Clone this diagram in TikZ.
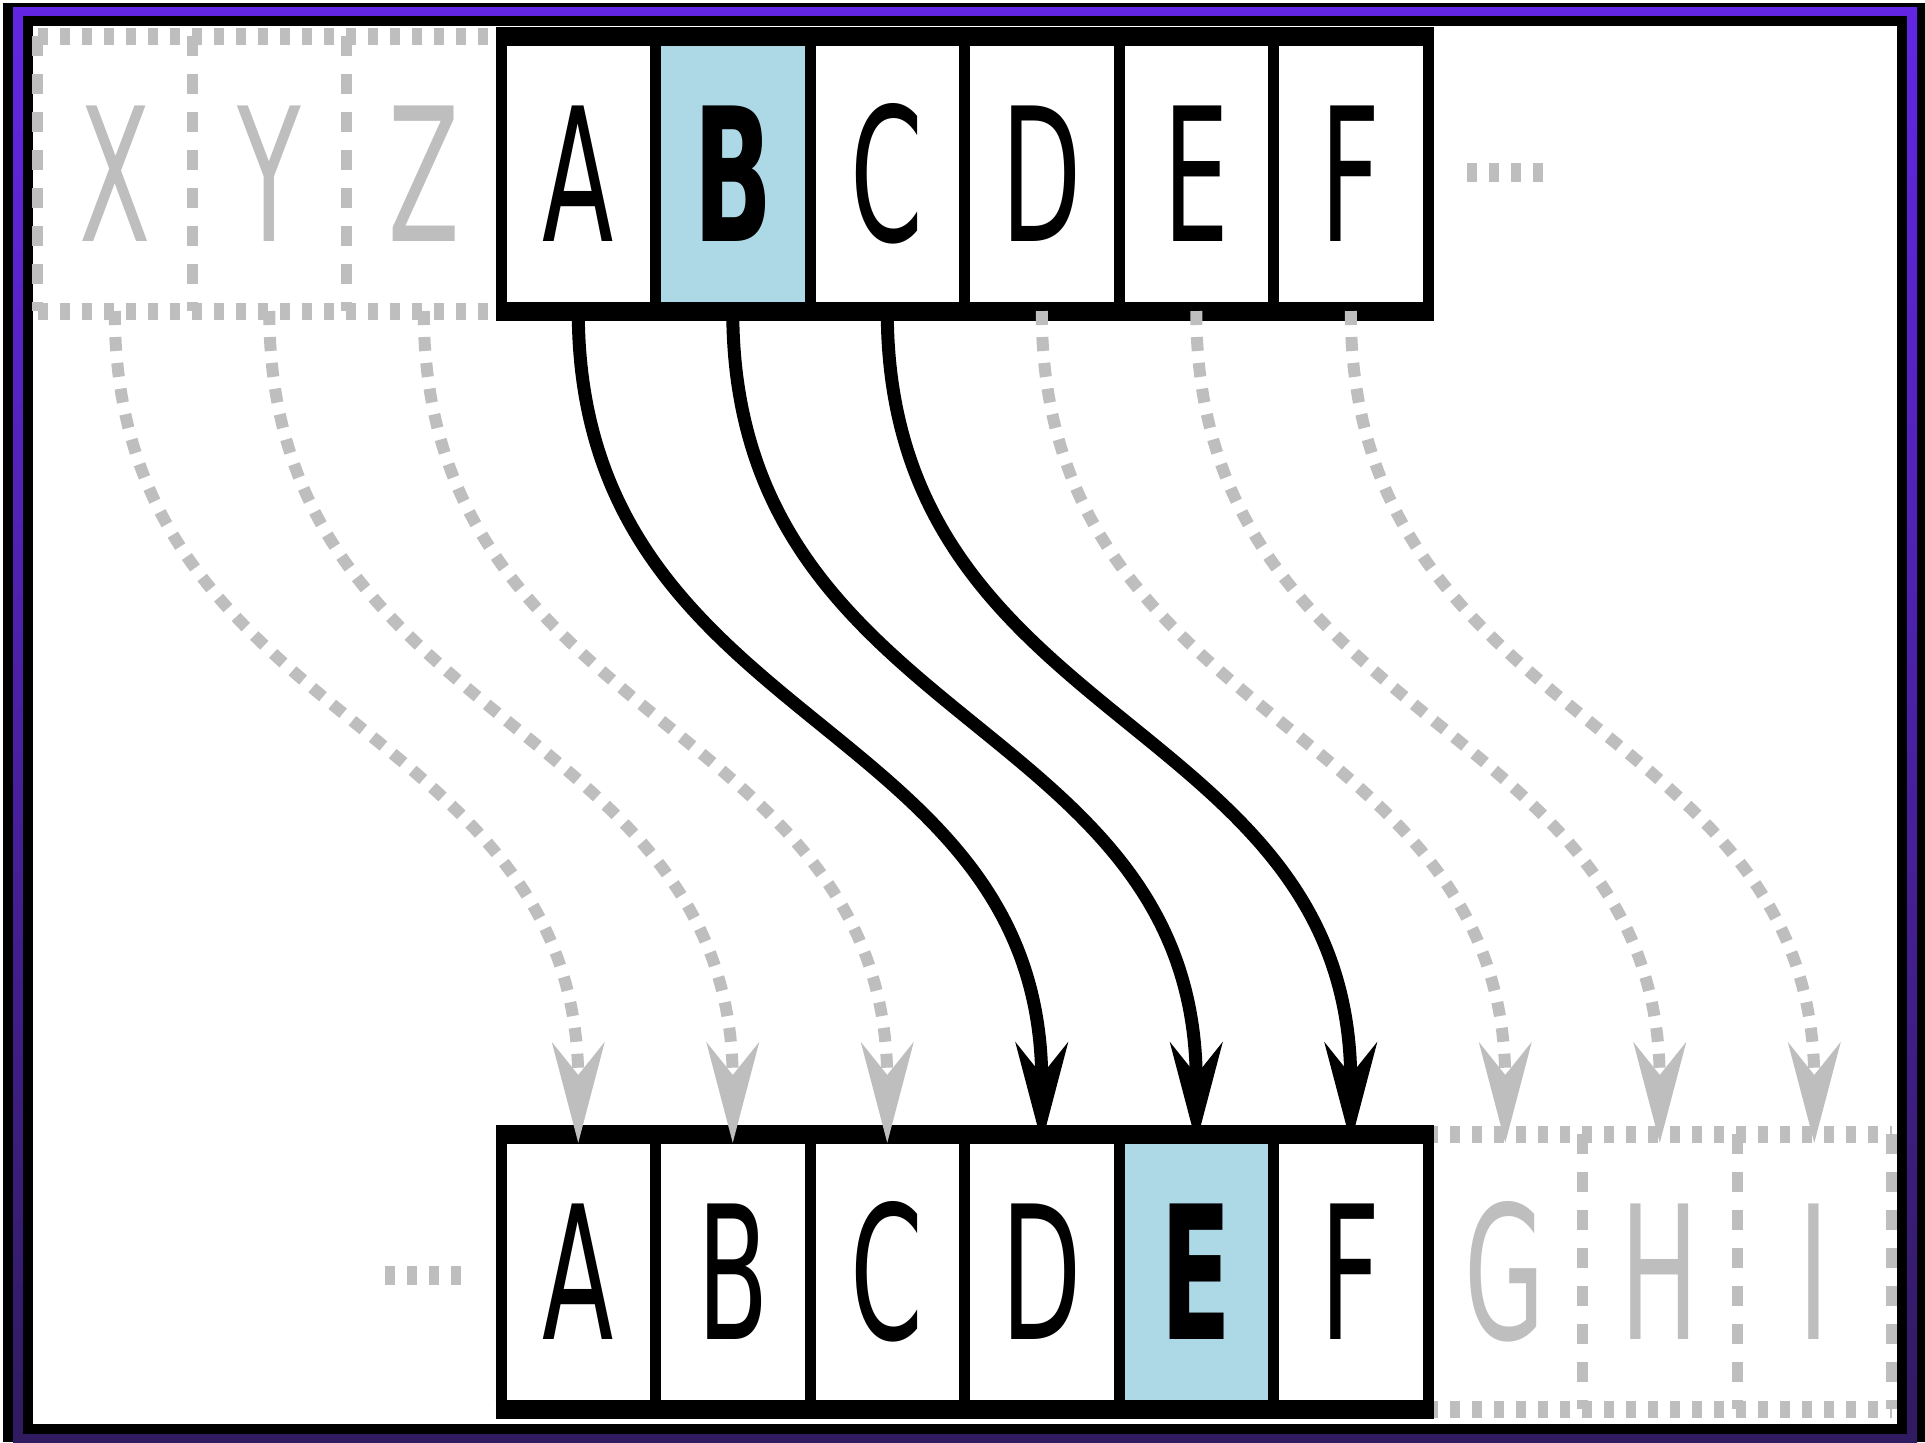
\documentclass[tikz,border=0pt]{standalone}
\usepackage{fontspec}
\setmainfont{DejaVu Sans}
\usetikzlibrary{arrows.meta}
\definecolor{cellblue}{HTML}{ADD8E6}
\definecolor{ghost}{RGB}{190,190,190}
\definecolor{frametop}{RGB}{98,38,228}
\definecolor{framebot}{RGB}{48,26,96}
\newcommand{\narrowtxt}[1]{\scalebox{0.56}[1]{#1}}
\begin{document}
\begin{tikzpicture}[x=0.5pt,y=-0.5pt,
  cell/.style={rectangle, minimum width=77.25pt, minimum height=137.5pt,
    inner sep=0pt, outer sep=0pt, font=\fontsize{93}{93}\selectfont},
  ghostcell/.style={cell, text=ghost},
  hline/.style={line width=9.5pt},
  vline/.style={line width=5.5pt},
  ghosth/.style={draw=ghost, line width=8.5pt, dash pattern=on 5pt off 6pt},
  ghostv/.style={draw=ghost, line width=5.5pt, dash pattern=on 10pt off 9pt},
  shiftarrow/.style={line width=6.5pt, -{Stealth[length=50pt,width=26pt,inset=16pt]}, shorten >=-4.5pt},
  ghostarrow/.style={draw=ghost, line width=6pt, dash pattern=on 7pt off 6pt,
    -{Stealth[length=50pt,width=26pt,inset=16pt]}, shorten >=-4.5pt},
  dots/.style={draw=ghost, line width=9.5pt, dash pattern=on 5pt off 6pt}]
\useasboundingbox (0,0) rectangle (1925,1442);
% frame
\fill[white] (0,0) rectangle (1925,1442);
\fill[black] (3,3) rectangle (1925,1442);
\shade[top color=frametop, bottom color=framebot] (13,7) rectangle (1917,1442);
\fill[black] (23,16) rectangle (1907,1434);
\fill[white] (33,26) rectangle (1897,1424);
% top row
\node[ghostcell] (tX) at (114.75,173.5) {\narrowtxt{X}};
\node[ghostcell] (tY) at (269.25,173.5) {\narrowtxt{Y}};
\node[ghostcell] (tZ) at (423.75,173.5) {\narrowtxt{Z}};
\node[cell] (tA) at (578.25,173.5) {\narrowtxt{A}};
\node[cell, fill=cellblue] (tB) at (732.75,173.5) {\narrowtxt{\bfseries B}};
\node[cell] (tC) at (887.25,173.5) {\narrowtxt{C}};
\node[cell] (tD) at (1041.75,173.5) {\narrowtxt{D}};
\node[cell] (tE) at (1196.25,173.5) {\narrowtxt{E}};
\node[cell] (tF) at (1350.75,173.5) {\narrowtxt{F}};
% bottom row
\node[cell] (bA) at (578.25,1271.5) {\narrowtxt{A}};
\node[cell] (bB) at (732.75,1271.5) {\narrowtxt{B}};
\node[cell] (bC) at (887.25,1271.5) {\narrowtxt{C}};
\node[cell] (bD) at (1041.75,1271.5) {\narrowtxt{D}};
\node[cell, fill=cellblue] (bE) at (1196.25,1271.5) {\narrowtxt{\bfseries E}};
\node[cell] (bF) at (1350.75,1271.5) {\narrowtxt{F}};
\node[ghostcell] (bG) at (1505.25,1271.5) {\narrowtxt{G}};
\node[ghostcell] (bH) at (1659.75,1271.5) {\narrowtxt{H}};
\node[ghostcell] (bI) at (1814.25,1271.5) {\narrowtxt{I}};
% ghost cell borders
\draw[ghosth] (tX.north west) -- (tZ.north east);
\draw[ghosth] (tX.south west) -- (tZ.south east);
\foreach \n in {tX,tY,tZ} \draw[ghostv] (\n.north west) -- (\n.south west);
\draw[ghosth] (bG.north west) -- (bI.north east);
\draw[ghosth] (bG.south west) -- (bI.south east);
\foreach \n in {bG,bH,bI} \draw[ghostv] (\n.north east) -- (\n.south east);
% solid array borders
\draw[hline] ([xshift=-2.75pt]tA.north west) -- ([xshift=2.75pt]tF.north east);
\draw[hline] ([xshift=-2.75pt]tA.south west) -- ([xshift=2.75pt]tF.south east);
\foreach \n in {tA,tB,tC,tD,tE,tF} \draw[vline] (\n.north west) -- (\n.south west);
\draw[vline] (tF.north east) -- (tF.south east);
\draw[hline] ([xshift=-2.75pt]bA.north west) -- ([xshift=2.75pt]bF.north east);
\draw[hline] ([xshift=-2.75pt]bA.south west) -- ([xshift=2.75pt]bF.south east);
\foreach \n in {bA,bB,bC,bD,bE,bF} \draw[vline] (\n.north west) -- (\n.south west);
\draw[vline] (bF.north east) -- (bF.south east);
% ellipses
\draw[dots] (1467,172) -- (1543,172);
\draw[dots] (385,1275) -- (461,1275);
% shift arrows
\foreach \s/\t in {tX/bA,tY/bB,tZ/bC,tD/bG,tE/bH,tF/bI}
  \draw[ghostarrow] (\s.south) .. controls +(0,420) and +(0,-420) .. (\t.north);
\foreach \s/\t in {tA/bD,tB/bE,tC/bF}
  \draw[shiftarrow] (\s.south) .. controls +(0,420) and +(0,-420) .. (\t.north);
\end{tikzpicture}
\end{document}
